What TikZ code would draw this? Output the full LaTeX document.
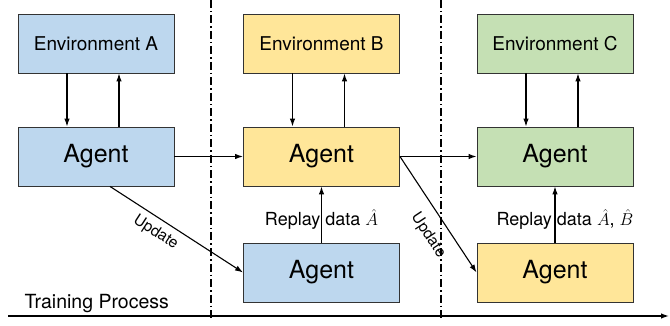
\documentclass[tikz,border=0pt]{standalone}
\usepackage{amsmath}
\usepackage{fontspec}
\setmainfont{TeX Gyre Heros}
\usetikzlibrary{arrows.meta}
\usetikzlibrary{positioning}
\tikzset{box/.style = {draw = black!80, line width = 0.9, minimum width = 156, minimum height = 59, inner sep = 0}}
\tikzset{sep/.style = {line width = 1.4, dash pattern = on 8pt off 3pt on 1.5pt off 3pt}}
\tikzset{lnk/.style = {line width = 1.1, -{Latex[length = 8pt, width = 5.5pt]}}}
\definecolor{mblue}{RGB}{189, 215, 238}
\definecolor{myellow}{RGB}{255, 230, 153}
\definecolor{mgreen}{RGB}{197, 224, 180}
\newcommand{\envfont}{\fontsize{19}{22}\selectfont}
\newcommand{\agtfont}{\fontsize{25}{30}\selectfont}
\newcommand{\lblfont}{\fontsize{18}{21}\selectfont}
\newcommand{\updfont}{\fontsize{15.5}{18}\selectfont}

\begin{document}
\begin{tikzpicture}[x = 1pt, y = -1pt]
    \useasboundingbox (0, 0) rectangle (670, 326);

    \node [box, fill = mblue] (eA) at (96, 43.5) {\envfont Environment A};
    \node [box, fill = mblue] (aA) at (96, 156.5) {\agtfont Agent};

    \node [box, fill = myellow] (eB) at (321.5, 43.5) {\envfont Environment B};
    \node [box, fill = myellow] (aB) at (321.5, 156.5) {\agtfont Agent};
    \node [box, fill = mblue] (bB) at (321.5, 272.5) {\agtfont Agent};

    \node [box, fill = mgreen] (eC) at (555, 43.5) {\envfont Environment C};
    \node [box, fill = mgreen] (aC) at (555, 156.5) {\agtfont Agent};
    \node [box, fill = myellow] (bC) at (555, 272.5) {\agtfont Agent};

    \coordinate (s0) at (211, 0);
    \coordinate (s1) at (211, 320);
    \coordinate (s2) at (441, 0);
    \coordinate (s3) at (441, 320);
    \draw [sep] (s0) -- (s1);
    \draw [sep] (s2) -- (s3);

    \draw [lnk] ([xshift = -29]eA.south) -- ([xshift = -29]aA.north);
    \draw [lnk] ([xshift = 23]aA.north) -- ([xshift = 23]eA.south);
    \draw [lnk] ([xshift = -29]eB.south) -- ([xshift = -29]aB.north);
    \draw [lnk] ([xshift = 23]aB.north) -- ([xshift = 23]eB.south);
    \draw [lnk] ([xshift = -29]eC.south) -- ([xshift = -29]aC.north);
    \draw [lnk] ([xshift = 23]aC.north) -- ([xshift = 23]eC.south);

    \draw [lnk] (aA.east) -- (aB.west);
    \draw [lnk] (aB.east) -- (aC.west);

    \draw [lnk] ([xshift = 14]aA.south) -- (bB.west)
        node [pos = 0.4, sloped, below, inner sep = 6pt] {\updfont Update};
    \draw [lnk] (aB.east) -- (bC.west)
        node [pos = 0.585, sloped, below, inner sep = 12pt] {\updfont Update};

    \draw [lnk] (bB) -- (aB) node [midway, yshift = -5pt] {\lblfont Replay data $\hat{A}$};
    \draw [lnk] (bC) -- (aC) node [midway, xshift = 10pt, yshift = -5pt] {\lblfont Replay data $\hat{A}$, $\hat{B}$};

    \coordinate (t0) at (8, 316);
    \coordinate (t1) at (669, 316);
    \draw [lnk, line width = 1.3] (t0) -- (t1);
    \node [anchor = base west] (tp) at (21, 308) {\fontsize{19.5}{23}\selectfont Training Process};
\end{tikzpicture}
\end{document}
